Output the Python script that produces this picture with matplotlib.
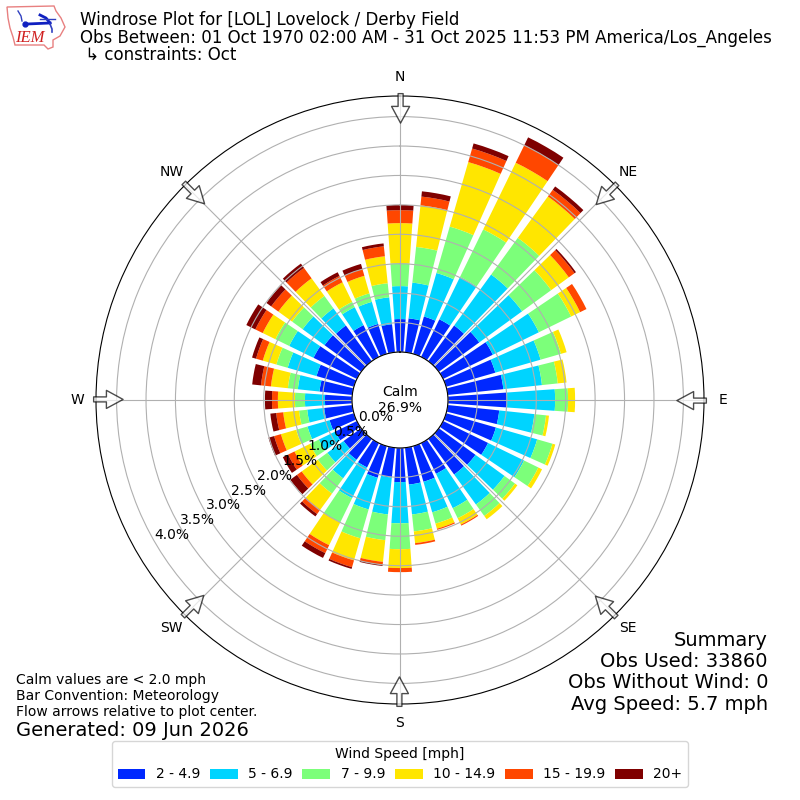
import numpy as np
import matplotlib
matplotlib.use("Agg")
import matplotlib.pyplot as plt
from matplotlib.patches import Polygon

directions = list(range(0, 360, 10))
speed_labels = ["2 - 4.9", "5 - 6.9", "7 - 9.9", "10 - 14.9", "15 - 19.9", "20+"]
colors = ["#0028ff", "#00d4ff", "#7cff7a", "#ffe600", "#ff4700", "#7f0000"]

s2_5 = [.56,.58,.66,.71,.75,.85,.94,.87,.95,1.00,.88,.88,.85,.77,.75,.58,.63,.63,
        .58,.51,.56,.46,.44,.37,.41,.43,.48,.46,.56,.66,.82,.77,.75,.60,.53,.48]
s5_7 = [.56,.61,.77,.80,1.07,.90,.87,.80,.66,.82,.60,.73,.68,.61,.63,.65,.54,.51,
        .70,.63,.56,.58,.39,.34,.31,.39,.29,.34,.37,.51,.46,.46,.36,.34,.39,.46]
s7_10 = [.39,.61,.82,.90,.77,.61,.61,.36,.27,.22,.20,.27,.27,.22,.24,.19,.20,.29,
         .44,.44,.51,.46,.32,.20,.17,.20,.14,.17,.17,.20,.26,.22,.26,.10,.15,.24]
s10_15 = [.68,.71,1.14,1.26,.87,.37,.17,.10,.15,.12,.05,.05,.07,.05,.07,.12,.09,.20,
          .32,.37,.39,.43,.34,.34,.29,.27,.27,.29,.29,.24,.24,.29,.37,.37,.31,.46]
s15_20 = [.22,.15,.24,.33,.14,.12,.12,0,0,0,0,0,0,0,0,.02,.02,.03,
          .07,.05,.12,.15,.09,.10,.12,.12,.12,.10,.17,.12,.14,.15,.22,.12,.12,.17]
s20 = [.09,.09,.09,.15,.07,.03,0,0,0,0,0,0,0,0,0,0,0,0,
       0,.02,.03,.09,.05,.14,.10,.10,.10,.12,.15,.07,.17,.10,.09,.07,.09,.05]
series = [s2_5, s5_7, s7_10, s10_15, s15_20, s20]

rings = [0, .5, 1, 1.5, 2, 2.5, 3, 3.5, 4]
compass = ["N", "NE", "E", "SE", "S", "SW", "W", "NW"]

fig = plt.figure(figsize=(8, 8), dpi=100)
ax = fig.add_axes([0.12, 0.12, 0.76, 0.76], projection="polar")
ax.set_theta_zero_location("N")
ax.set_theta_direction(-1)

theta = np.radians(directions)
bottom = np.zeros(len(directions))
handles = []
for vals, col, lab in zip(series, colors, speed_labels):
    vals = np.array(vals)
    b = ax.bar(theta, vals, width=np.radians(8), bottom=bottom, color=col, label=lab, linewidth=0)
    handles.append(b)
    bottom = bottom + vals

ax.set_rorigin(-0.815)
ax.set_ylim(0, 4.35)
ax.set_rticks(rings)
ax.set_yticklabels([f"{r:.1f}%" for r in rings], fontsize=10)
ax.set_rlabel_position(240)
ax.set_xticks(np.radians(np.arange(0, 360, 45)))
ax.set_xticklabels(compass, fontsize=10)
ax.tick_params(axis="x", pad=3)
ax.grid(True)

for a in np.arange(0, 360, 45):
    t = np.radians(a) + 0.002
    ax.annotate("", xy=(t, 3.89), xytext=(t, 4.39),
                arrowprops=dict(facecolor="white", edgecolor="k", alpha=0.7, width=3.6,
                                headwidth=13, headlength=12, shrink=0, linewidth=1.0))

ax.text(0.5, 0.5, "Calm\n26.9%", transform=ax.transAxes, ha="center", va="center", fontsize=10)

fig.text(80/800, 1-20/800, "Windrose Plot for [LOL] Lovelock / Derby Field", fontsize=12, va="center")
fig.text(80/800, 1-37.5/800, "Obs Between: 01 Oct 1970 02:00 AM - 31 Oct 2025 11:53 PM America/Los_Angeles", fontsize=12, va="center")
fig.text(80/800, 1-55/800, " \u21b3 constraints: Oct", fontsize=12, va="center")

for y, s in zip([640, 661.5, 683, 705], ["Summary", "Obs Used: 33860", "Obs Without Wind: 0", "Avg Speed: 5.7 mph"]):
    fig.text(768/800, 1-y/800, s, fontsize=14, ha="right", va="center")
for y, s in zip([680, 696, 712], ["Calm values are < 2.0 mph", "Bar Convention: Meteorology", "Flow arrows relative to plot center."]):
    fig.text(16/800, 1-y/800, s, fontsize=10, va="center")
fig.text(16/800, 1-730/800, "Generated: 09 Jun 2026", fontsize=14, va="center")

ax.legend(handles=handles, labels=speed_labels, title="Wind Speed [mph]", ncol=6, fontsize=10,
          title_fontsize=10, loc="lower center", bbox_to_anchor=(0.5, 0.0075),
          bbox_transform=fig.transFigure, columnspacing=0.7, handletextpad=0.75)

# IEM logo
logo = fig.add_axes([0, 1-56/800, 70/800, 56/800])
logo.set_xlim(0, 70)
logo.set_ylim(56, 0)
logo.axis("off")
outline = [(7,7),(54,6),(56,11),(61,18),(65,27),(60,36),(53,40),(53,47),(48,49),(44,45),(15,45),(13,37),(10,28),(8,18)]
logo.add_patch(Polygon(outline, closed=True, fill=False, edgecolor="#e88080", linewidth=1))
logo.plot([27, 50], [24, 23], color="#1020c0", linewidth=2)
logo.plot([40, 46, 50], [15, 18, 23], color="#1020c0", linewidth=2)
logo.plot([18, 21, 22], [11, 16, 21], color="#3040c0", linewidth=1)
logo.plot([40, 55], [19, 19], color="#3040c0", linewidth=1)
logo.plot([50, 52, 52], [24, 29, 32], color="#3040c0", linewidth=1.2)
logo.plot([25], [24], "o", color="#1020c0", markersize=3.5)
logo.text(30, 38, "IEM", color="#d02020", fontsize=12, family="Liberation Serif", style="italic", ha="center", va="center")

fig.savefig("out.png", dpi=100)
